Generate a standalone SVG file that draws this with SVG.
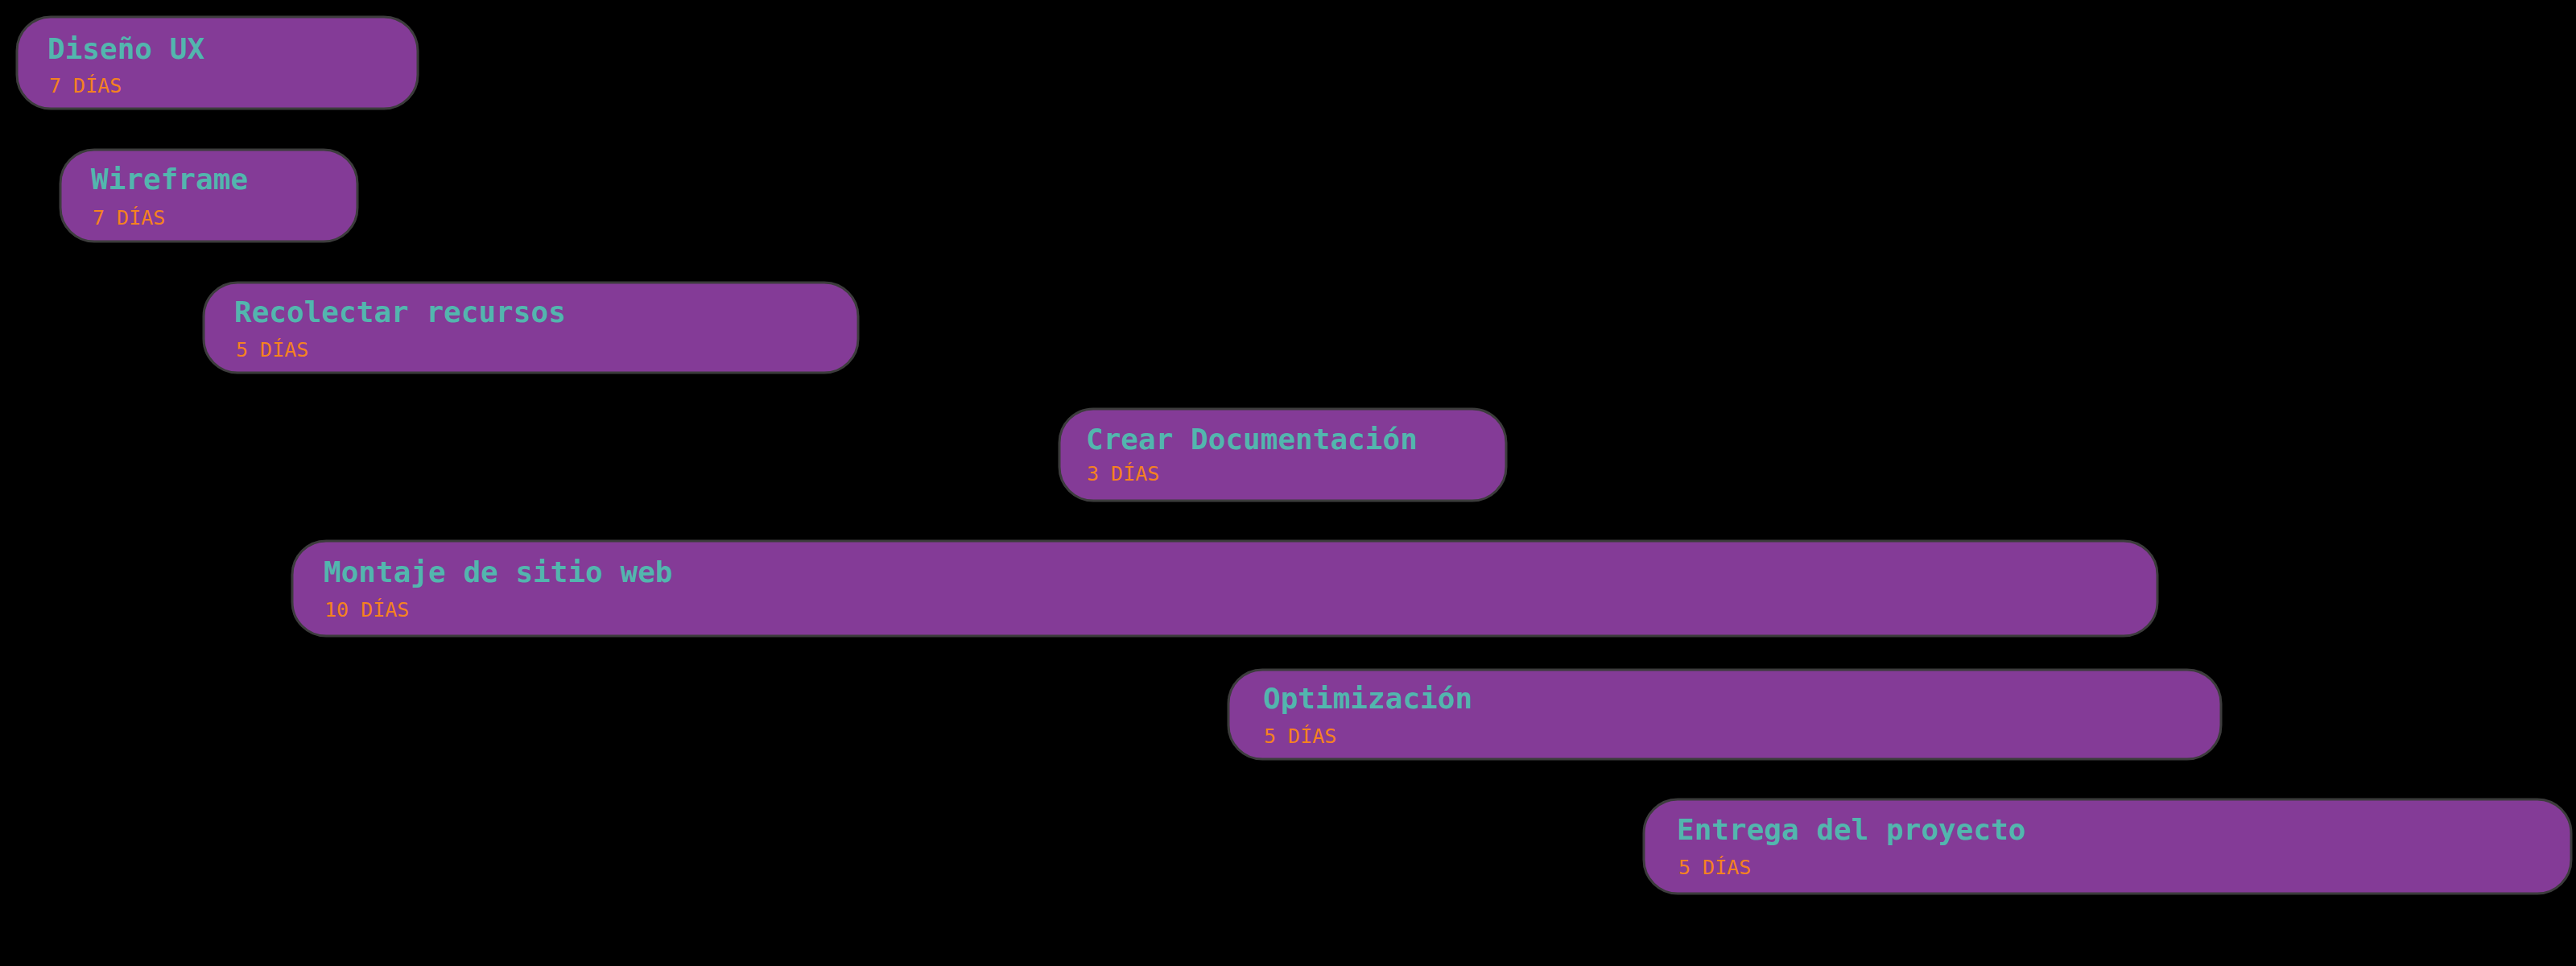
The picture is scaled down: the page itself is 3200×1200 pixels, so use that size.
<svg xmlns="http://www.w3.org/2000/svg" width="3200" height="1200" viewBox="0 0 3200 1200">
<style>
.bar{fill:#843B97;stroke:#3c3c3c;stroke-width:3}
.t{font-family:"DejaVu Sans Mono","Liberation Mono",monospace;font-size:36px;font-weight:bold;fill:#52B6AE}
.d{font-family:"DejaVu Sans Mono","Liberation Mono",monospace;font-size:25px;fill:#F5821F}
</style>
<rect width="3200" height="1200" fill="#000"/>
<g id="connectors"/>
<g id="n1"><rect class="bar" x="21" y="21" width="498" height="114" rx="42"/><text class="t" x="59" y="73">Diseño UX</text><text class="d" x="61" y="115">7 DÍAS</text></g>
<g id="n2"><rect class="bar" x="75" y="186" width="369" height="114" rx="42"/><text class="t" x="113" y="235">Wireframe</text><text class="d" x="115" y="279">7 DÍAS</text></g>
<g id="n3"><rect class="bar" x="253" y="351" width="813" height="112" rx="42"/><text class="t" x="291" y="400">Recolectar recursos</text><text class="d" x="293" y="443">5 DÍAS</text></g>
<g id="n4"><rect class="bar" x="1316" y="508" width="555" height="114" rx="42"/><text class="t" x="1349" y="558">Crear Documentación</text><text class="d" x="1350" y="597">3 DÍAS</text></g>
<g id="n5"><rect class="bar" x="363" y="672" width="2317" height="118" rx="42"/><text class="t" x="402" y="723">Montaje de sitio web</text><text class="d" x="403" y="766">10 DÍAS</text></g>
<g id="n6"><rect class="bar" x="1526" y="832" width="1233" height="111" rx="42"/><text class="t" x="1569" y="880">Optimización</text><text class="d" x="1570" y="923">5 DÍAS</text></g>
<g id="n7"><rect class="bar" x="2042" y="993" width="1152" height="117" rx="42"/><text class="t" x="2083" y="1043">Entrega del proyecto</text><text class="d" x="2085" y="1086">5 DÍAS</text></g>
</svg>
